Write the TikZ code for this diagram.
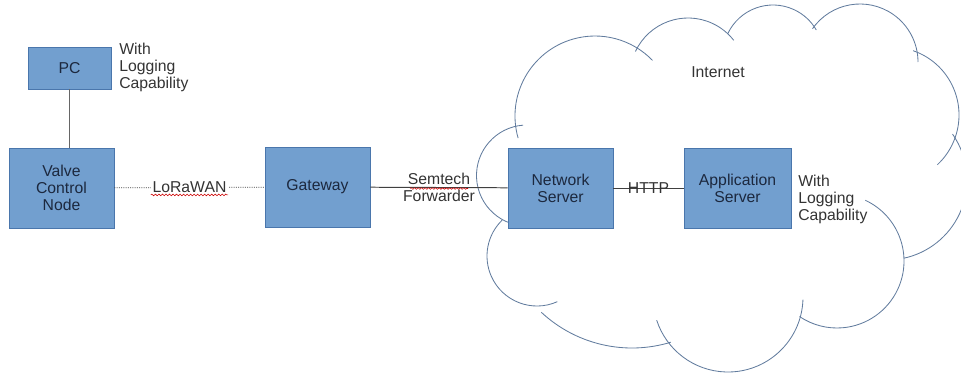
\documentclass[tikz,border=0pt]{standalone}
\usepackage{fontspec}
\setmainfont{Liberation Sans}
\usetikzlibrary{decorations.pathmorphing}
\definecolor{boxfill}{RGB}{114,159,207}
\definecolor{boxline}{RGB}{74,118,172}
\definecolor{boxtext}{RGB}{28,40,62}
\definecolor{cloudline}{RGB}{98,124,158}
\definecolor{textgray}{RGB}{51,51,51}

\begin{document}
\begin{tikzpicture}[x=0.025cm, y=0.025cm,
    every node/.style={font=\fontsize{11.2}{12.2}\selectfont, text=textgray},
    block/.style={draw=boxline, fill=boxfill, text=boxtext, align=center,
      minimum width=2.625cm, minimum height=2cm, inner sep=0pt},
    note/.style={anchor=west, align=left, inner sep=0pt},
    cloudarc/.style={draw=cloudline, line width=0.6pt},
    link/.style={draw=black!75, line width=0.7pt},
    squiggle/.style={draw=red!80!black, line width=0.4pt, decorate,
      decoration={snake, amplitude=0.6pt, segment length=2.5pt}}]

  \useasboundingbox (0,0) rectangle (961,-376);

  % the internet cloud, one arc per puff
  \draw[cloudarc] (595,-116) ++(196:80) arc[start angle=196, end angle=44, radius=80];
  \draw[cloudarc] (688,-76) ++(155:58) arc[start angle=155, end angle=38, radius=58];
  \draw[cloudarc] (773,-55) ++(155:50) arc[start angle=155, end angle=30, radius=50];
  \draw[cloudarc] (860,-62) ++(145:58) arc[start angle=145, end angle=0, radius=58];
  \draw[cloudarc] (891,-115) ++(71:68) arc[start angle=71, end angle=-47, radius=68];
  \draw[cloudarc] (887,-180) ++(35:80) arc[start angle=35, end angle=-78, radius=80];
  \draw[cloudarc] (837,-261) ++(65:67) arc[start angle=65, end angle=-124, radius=67];
  \draw[cloudarc] (728,-297) ++(-2:75) arc[start angle=-2, end angle=-162, radius=75];
  \draw[cloudarc] (632,-215) ++(-73:133) arc[start angle=-73, end angle=-133, radius=133];
  \draw[cloudarc] (537,-256) ++(-66:50) arc[start angle=-66, end angle=-226, radius=50];
  \draw[cloudarc] (527,-175.5) ++(-87:50.5) arc[start angle=-87, end angle=-265.5, radius=50.5];

  \node (internet) at (718,-72) {Internet};

  % boxes
  \node[block, minimum width=2.075cm, minimum height=1.05cm] (pc) at (69.5,-68) {PC};
  \node[block] (valve) at (61.5,-188) {Valve\\Control\\Node};
  \node[block] (gateway) at (317.5,-187) {Gateway};
  \node[block] (netserver) at (560.5,-188) {Network\\Server};
  \node[block, minimum width=2.675cm] (appserver) at (737.5,-188) {Application\\Server};

  \node[note] (pclog) at (119,-67.5) {With\\Logging\\Capability};
  \node[note] (applog) at (798,-199.5) {With\\Logging\\Capability};

  % links
  \draw[draw=black!60, line width=1pt] (pc.south) -- (pc.south |- valve.north);
  \draw[link, line width=0.5pt, dash pattern=on 0.8pt off 0.8pt] (valve) -- node[fill=white, inner sep=1pt] (lora) {LoRaWAN} (gateway);
  \draw[link] (gateway) -- node[align=center] (semtech) {Semtech\\Forwarder} (netserver);
  \draw[link] (netserver) -- node (http) {HTTP} (appserver);

  % spell checker marks
  \draw[squiggle] ([yshift=-1.5pt]lora.base west) -- ([yshift=-1.5pt]lora.base east);
  \draw[squiggle] ([shift={(-29,-1)}]semtech.center) -- ([shift={(29,-1)}]semtech.center);
\end{tikzpicture}
\end{document}
